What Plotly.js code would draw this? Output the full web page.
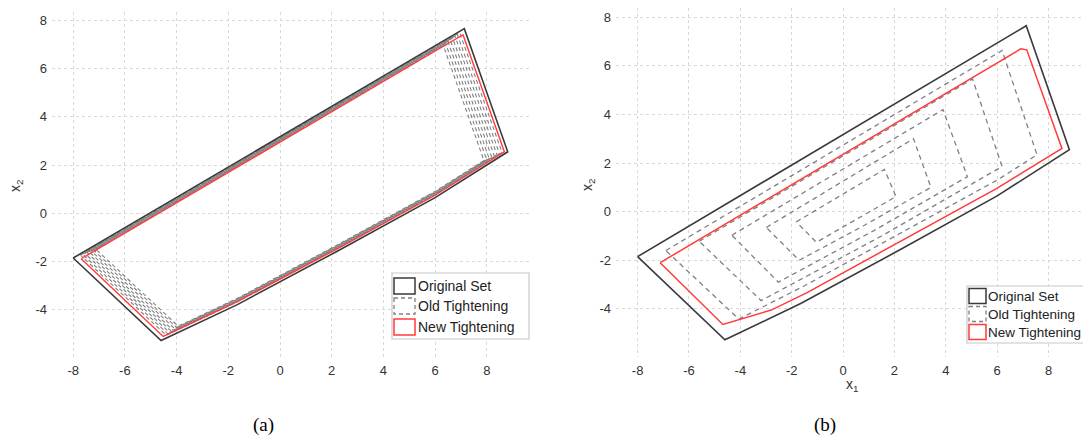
<!DOCTYPE html>
<html><head><meta charset="utf-8">
<script src="https://cdn.plot.ly/plotly-3.0.1.min.js"></script>
<style>html,body{margin:0;padding:0;background:#fff;overflow:hidden}#chart{width:1083px;height:436px}</style>
</head><body><div id="chart"></div>
<script>
// ---------- data ----------
const ticksX = [-8, -6, -4, -2, 0, 2, 4, 6, 8];
const ticksXText = ['-8', '-6', '-4', '-2', '0', '2', '4', '6', '8'];
const ticksY = [-4, -2, 0, 2, 4, 6, 8];
const ticksYText = ['-4', '-2', '0', '2', '4', '6', '8'];

// Original set (same in both panels)
const origX = [-8.0, 7.13, 8.81, 6.0, 2.16, -1.65, -4.6, -8.0];
const origY = [-1.85, 7.65, 2.55, 0.65, -1.6, -3.78, -5.27, -1.85];

// Panel (a): new tightening
const newAX = [-7.69, 7.08, 8.68, 6.0, 2.16, -1.65, -4.52, -7.69];
const newAY = [-1.88, 7.40, 2.55, 0.75, -1.50, -3.66, -5.10, -1.88];

// Panel (a): old tightening (nested sets)
const oldAX = [
  [-7.72, 6.95, 8.59, 6.0, 2.16, -1.65, -4.40, -7.72],
  [-7.64, 6.86, 8.49, 6.0, 2.16, -1.65, -4.33, -7.64],
  [-7.55, 6.77, 8.39, 6.0, 2.16, -1.65, -4.27, -7.55],
  [-7.47, 6.68, 8.29, 6.0, 2.16, -1.65, -4.20, -7.47],
  [-7.38, 6.59, 8.19, 6.0, 2.16, -1.65, -4.14, -7.38],
  [-7.29, 6.50, 8.09, 6.0, 2.16, -1.65, -4.07, -7.29],
  [-7.21, 6.41, 7.99, 6.0, 2.16, -1.65, -4.00, -7.21],
  [-7.12, 6.32, 7.89, 6.0, 2.16, -1.65, -3.94, -7.12]
];
const oldAY = [
  [-1.73, 7.49, 2.52, 0.77, -1.48, -3.66, -5.05, -1.73],
  [-1.69, 7.41, 2.47, 0.79, -1.46, -3.64, -5.00, -1.69],
  [-1.66, 7.34, 2.43, 0.81, -1.44, -3.62, -4.94, -1.66],
  [-1.62, 7.26, 2.38, 0.83, -1.42, -3.60, -4.89, -1.62],
  [-1.59, 7.18, 2.33, 0.85, -1.40, -3.58, -4.84, -1.59],
  [-1.56, 7.11, 2.28, 0.87, -1.38, -3.56, -4.78, -1.56],
  [-1.52, 7.03, 2.24, 0.89, -1.36, -3.54, -4.73, -1.52],
  [-1.49, 6.95, 2.19, 0.91, -1.34, -3.52, -4.67, -1.49]
];

// Panel (b): new tightening
const newBX = [-7.12, 6.92, 7.15, 8.52, 5.97, -1.40, -2.80, -4.68, -7.12];
const newBY = [-2.10, 6.70, 6.66, 2.60, 0.95, -3.33, -4.05, -4.64, -2.10];

// Panel (b): old tightening (nested sets)
const oldBX = [
  [-6.90, 6.19, 7.55, 6.00, -1.50, -4.06, -6.90],
  [-5.60, 5.04, 6.19, 1.50, -3.19, -5.60],
  [-4.33, 3.89, 4.84, 1.20, -2.52, -4.33],
  [-2.99, 2.74, 3.42, 0.80, -1.71, -2.99],
  [-1.82, 1.61, 2.06, -1.04, -1.82]
];
const oldBY = [
  [-1.60, 6.63, 2.34, 1.30, -3.05, -4.42, -1.60],
  [-1.22, 5.46, 1.86, -1.00, -3.66, -1.22],
  [-0.97, 4.20, 1.44, -0.78, -2.90, -0.97],
  [-0.65, 3.00, 1.00, -0.58, -2.00, -0.65],
  [-0.42, 1.74, 0.62, -1.26, -0.42]
];

const legendLabels = ['Original Set', 'Old Tightening', 'New Tightening'];
const captions = ['(a)', '(b)'];

// ---------- styles ----------
const W = 1083, H = 436;
const BLACK = '#3a3a3a', RED = '#ff3b3b', GRAY = '#808080';
const FONT = 'Liberation Sans, Arial, Helvetica, sans-serif';
const px = v => v / W;
const py = v => 1 - v / H;

const traces = [];
function addPoly(xs, ys, xa, ya, color, width, dash) {
  traces.push({
    type: 'scatter', mode: 'lines', x: xs, y: ys, xaxis: xa, yaxis: ya,
    line: {color: color, width: width, dash: dash || 'solid'},
    showlegend: false, hoverinfo: 'skip'
  });
}
oldAX.forEach((xs, i) => addPoly(xs, oldAY[i], 'x', 'y', GRAY, 1.1, '4px,3px'));
addPoly(origX, origY, 'x', 'y', BLACK, 1.6);
addPoly(newAX, newAY, 'x', 'y', RED, 1.4);

oldBX.forEach((xs, i) => addPoly(xs, oldBY[i], 'x2', 'y2', GRAY, 1.3, '5px,4px'));
addPoly(origX, origY, 'x2', 'y2', BLACK, 1.6);
addPoly(newBX, newBY, 'x2', 'y2', RED, 1.5);

function axisX(domain, range, anchor) {
  return {
    domain: domain, range: range, anchor: anchor,
    tickmode: 'array', tickvals: ticksX, ticktext: ticksXText,
    showgrid: true, gridcolor: '#d9d9d9', griddash: 'dot', gridwidth: 1,
    zeroline: false, showline: false, ticks: '',
    tickfont: {family: FONT, size: 13, color: '#333'},
    ticklabelstandoff: 4, fixedrange: true
  };
}
function axisY(domain, range, anchor) {
  return {
    domain: domain, range: range, anchor: anchor,
    tickmode: 'array', tickvals: ticksY, ticktext: ticksYText,
    showgrid: true, gridcolor: '#d9d9d9', griddash: 'dot', gridwidth: 1,
    zeroline: false, showline: false, ticks: '',
    tickfont: {family: FONT, size: 13, color: '#333'},
    ticklabelstandoff: 4, fixedrange: true
  };
}

const shapes = [];
const annotations = [];

// legend builder (MATLAB-style box with patch swatches)
function legendBox(box, swX, rows, swH, textX, fontSize) {
  shapes.push({type: 'rect', xref: 'paper', yref: 'paper',
    x0: px(box[0]), x1: px(box[2]), y0: py(box[1]), y1: py(box[3]),
    line: {color: '#c8c8c8', width: 1.2}, fillcolor: 'rgba(255,255,255,0.95)', layer: 'above'});
  const sw = [
    {color: BLACK, dash: 'solid', width: 1.5},
    {color: GRAY, dash: '4px,3px', width: 1.3},
    {color: RED, dash: 'solid', width: 1.5}
  ];
  rows.forEach((r, i) => {
    shapes.push({type: 'rect', xref: 'paper', yref: 'paper',
      x0: px(swX[0]), x1: px(swX[1]), y0: py(r - swH / 2), y1: py(r + swH / 2),
      line: sw[i], fillcolor: 'rgba(0,0,0,0)', layer: 'above'});
    annotations.push({xref: 'paper', yref: 'paper', x: px(textX), y: py(r),
      xanchor: 'left', yanchor: 'middle', showarrow: false, text: legendLabels[i],
      font: {family: FONT, size: fontSize, color: '#222'}});
  });
}
legendBox([392, 273, 529, 339], [394, 415], [286, 306, 327], 16, 416, 14);
legendBox([967, 286, 1095, 343], [969, 986], [296, 314, 332], 15, 986, 13.5);

// axis titles
annotations.push({xref: 'paper', yref: 'paper', x: px(16), y: py(186), xanchor: 'center', yanchor: 'middle',
  showarrow: false, textangle: -90, text: 'x<sub>2</sub>', font: {family: FONT, size: 14, color: '#333'}});
annotations.push({xref: 'paper', yref: 'paper', x: px(588), y: py(185), xanchor: 'center', yanchor: 'middle',
  showarrow: false, textangle: -90, text: 'x<sub>2</sub>', font: {family: FONT, size: 14, color: '#333'}});
annotations.push({xref: 'paper', yref: 'paper', x: px(852), y: py(385), xanchor: 'center', yanchor: 'middle',
  showarrow: false, text: 'x<sub>1</sub>', font: {family: FONT, size: 14, color: '#333'}});
// captions
annotations.push({xref: 'paper', yref: 'paper', x: px(263), y: py(425), xanchor: 'center', yanchor: 'middle',
  showarrow: false, text: captions[0], font: {family: 'Liberation Serif, Times New Roman, serif', size: 19, color: '#000'}});
annotations.push({xref: 'paper', yref: 'paper', x: px(825), y: py(425), xanchor: 'center', yanchor: 'middle',
  showarrow: false, text: captions[1], font: {family: 'Liberation Serif, Times New Roman, serif', size: 19, color: '#000'}});

const layout = {
  width: W, height: H,
  margin: {l: 0, r: 0, t: 0, b: 0, pad: 0},
  paper_bgcolor: '#fff', plot_bgcolor: '#fff',
  showlegend: false,
  xaxis: axisX([px(52), px(531)], [-8.82, 9.71], 'y'),
  yaxis: axisY([1 - 357 / H, 1 - 12 / H], [-5.95, 8.34], 'x'),
  xaxis2: axisX([px(616), 1], [-8.84, 9.34], 'y2'),
  yaxis2: axisY([1 - 357 / H, 1 - 8 / H], [-5.98, 8.38], 'x2'),
  shapes: shapes,
  annotations: annotations
};

Plotly.newPlot('chart', traces, layout, {displayModeBar: false, staticPlot: true});
</script>
</body></html>
